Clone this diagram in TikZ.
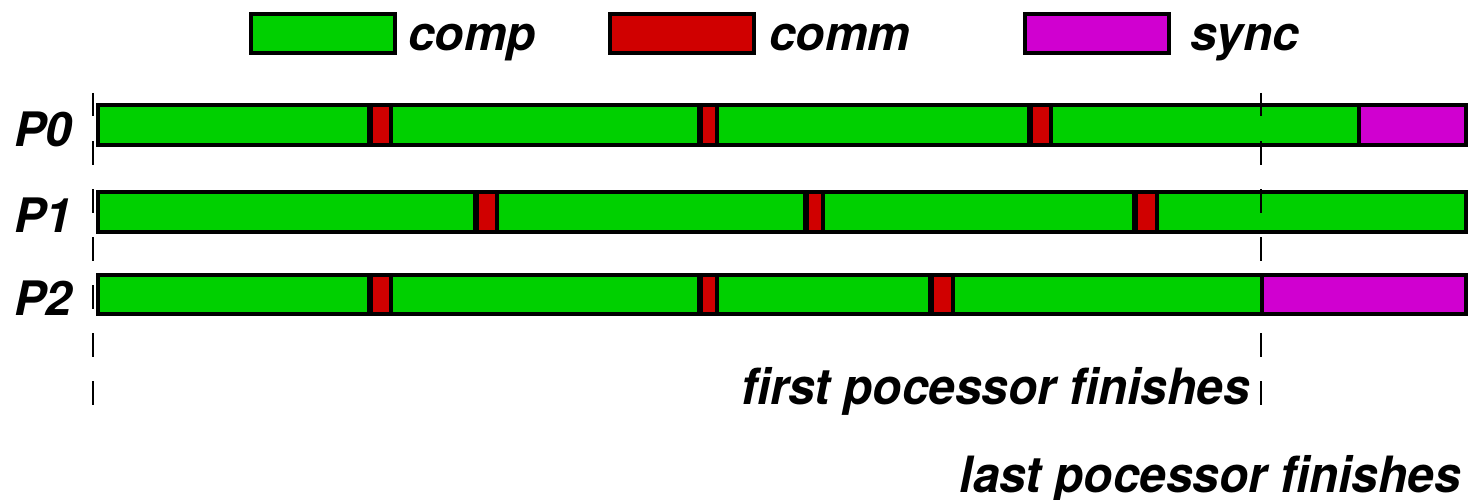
\documentclass[tikz,border=0pt]{standalone}
\usepackage{fontspec}
\setmainfont{TeX Gyre Heros}
\newfontfamily\hvnarrow[FakeStretch=0.955]{TeX Gyre Heros}
\definecolor{compcol}{RGB}{0,208,0}
\definecolor{commcol}{RGB}{208,0,0}
\definecolor{synccol}{RGB}{208,0,208}
\begin{document}
\begin{tikzpicture}[x=1pt,y=-1pt,
  seg/.style={draw=black,line width=4pt,line join=miter},
  compseg/.style={seg,fill=compcol},
  commseg/.style={seg,fill=commcol},
  syncseg/.style={seg,fill=synccol},
  plabel/.style={inner sep=0pt,anchor=base west,font=\fontsize{47.5}{55}\selectfont\bfseries\itshape},
  leglabel/.style={inner sep=0pt,anchor=base west,font=\fontsize{48}{55}\selectfont\bfseries\itshape},
  finlabel/.style={inner sep=0pt,anchor=base east,font=\hvnarrow\fontsize{50}{58}\selectfont\bfseries\itshape},
  marker/.style={line width=2pt,dash pattern=on 23.5pt off 24.5pt}]
\useasboundingbox (0,0) rectangle (1471,500);
% legend
\draw[compseg] (251.3,14.3) rectangle (395,53.3);
\node[leglabel] (lcomp) at (408,51) {comp};
\draw[commseg] (610,14.3) rectangle (754,53.3);
\node[leglabel] (lcomm) at (769,51) {comm};
\draw[syncseg] (1025.3,14.3) rectangle (1169,53.3);
\node[leglabel] (lsync) at (1190,51) {sync};
% P0
\def\ya{105.3}\def\yb{144.7}
\draw[compseg] (97.5,\ya) rectangle (368.7,\yb);
\draw[commseg] (370.7,\ya) rectangle (391.3,\yb);
\draw[compseg] (391.3,\ya) rectangle (698.7,\yb);
\draw[commseg] (700.7,\ya) rectangle (717,\yb);
\draw[compseg] (717,\ya) rectangle (1028.5,\yb);
\draw[commseg] (1030.5,\ya) rectangle (1050.9,\yb);
\draw[compseg] (1050.9,\ya) rectangle (1358.7,\yb);
\draw[syncseg] (1358.7,\ya) rectangle (1466,\yb);
\node[plabel] (p0) at (14,146.5) {P0};
% P1
\def\ya{192}\def\yb{232.3}
\draw[compseg] (97.5,\ya) rectangle (474.7,\yb);
\draw[commseg] (476.7,\ya) rectangle (497.2,\yb);
\draw[compseg] (497.2,\ya) rectangle (804.7,\yb);
\draw[commseg] (806.7,\ya) rectangle (822.8,\yb);
\draw[compseg] (822.8,\ya) rectangle (1134.4,\yb);
\draw[commseg] (1136.4,\ya) rectangle (1157,\yb);
\draw[compseg] (1157,\ya) rectangle (1466,\yb);
\node[plabel] (p1) at (14,232) {P1};
% P2
\def\ya{274.7}\def\yb{314}
\draw[compseg] (97.5,\ya) rectangle (368.7,\yb);
\draw[commseg] (370.7,\ya) rectangle (391.3,\yb);
\draw[compseg] (391.3,\ya) rectangle (698.7,\yb);
\draw[commseg] (700.7,\ya) rectangle (717,\yb);
\draw[compseg] (717,\ya) rectangle (929.5,\yb);
\draw[commseg] (931.5,\ya) rectangle (953,\yb);
\draw[compseg] (953,\ya) rectangle (1261.5,\yb);
\draw[syncseg] (1261.5,\ya) rectangle (1466,\yb);
\node[plabel] (p2) at (14,315) {P2};
% markers
\coordinate (mlt) at (93.3,93);
\coordinate (mlb) at (93.3,404.5);
\coordinate (mrt) at (1261,93);
\coordinate (mrb) at (1261,404.5);
\draw[marker] (mlt) -- (mlb);
\draw[marker] (mrt) -- (mrb);
\node[finlabel] (first) at (1250,404.5) {first pocessor finishes};
\node[finlabel] (last) at (1461,492) {last pocessor finishes};
\end{tikzpicture}
\end{document}
